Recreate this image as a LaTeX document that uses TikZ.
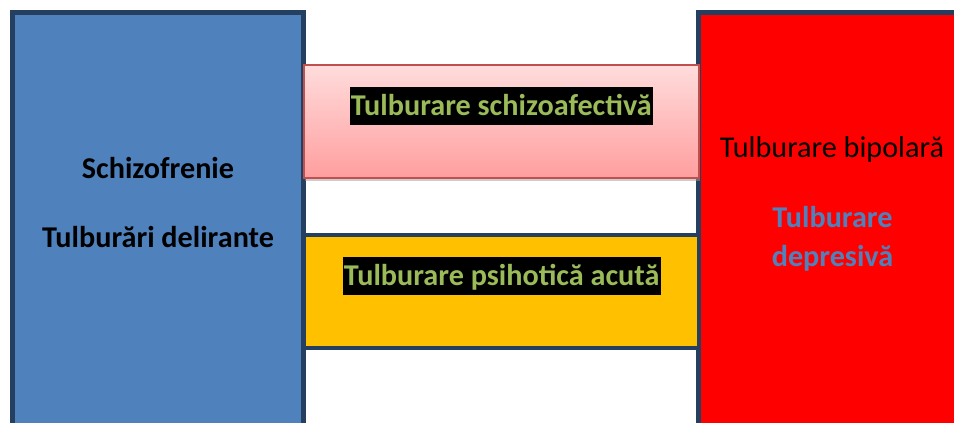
\documentclass[tikz,border=0pt]{standalone}
\usepackage{fontspec}
\setmainfont{Carlito}
\usepackage{xcolor}
\usetikzlibrary{shadows}

\definecolor{edgenavy}{HTML}{243F60}
\definecolor{colblue}{HTML}{4F81BD}
\definecolor{colred}{HTML}{FF0000}
\definecolor{bandyellow}{HTML}{FFC000}
\definecolor{bandedge}{HTML}{C0504D}
\definecolor{pinktop}{HTML}{FFDCDC}
\definecolor{pinkbot}{HTML}{FF9E9E}
\definecolor{labgreen}{HTML}{9BBB59}

\newcommand{\boxfont}{\fontsize{15.1}{18}\selectfont}

\begin{document}
\begin{tikzpicture}[x=0.5pt, y=-0.5pt,
		every node/.style={font=\boxfont},
		col/.style={draw=edgenavy, line width=2.5pt, minimum height=213.75pt, inner sep=0pt},
		band/.style={minimum width=197.5pt, minimum height=56.5pt, inner sep=0pt},
		lbl/.style={anchor=base, inner sep=0pt},
		hilite/.style={lbl, fill=black, text=labgreen, font={\boxfont\bfseries}, inner xsep=0.6pt, text height=14.2pt, text depth=4.5pt}]
		\clip (0,0) rectangle (954,423);
		
		% side columns
		\node[col, fill=colblue, minimum width=145.5pt] (left) at (158,226.25) {};
		\node[col, fill=colred, minimum width=135.75pt] (right) at (834.25,226.25) {};
		
		% middle bands
		\node[band, fill=bandyellow, draw=edgenavy, line width=2.2pt] (acute) at (501.25,291.65) {};
		\node[band, draw=bandedge, line width=0.75pt, top color=pinktop, bottom color=pinkbot,
			drop shadow={shadow xshift=0.7pt, shadow yshift=-1.5pt, fill=gray!80}] (affect) at (501.25,121.65) {};
		
		\node[lbl, font={\boxfont\bfseries}] (schiz) at (158,178) {Schizofrenie};
		\node[lbl, font={\boxfont\bfseries}] (delir) at (158,247) {Tulburări delirante};
		\node[hilite] (schaf) at (501.3,115.5) {Tulburare schizoafectivă};
		\node[hilite] (psih) at (501.7,285.5) {Tulburare psihotică acută};
		\node[lbl] (bip) at (832,157) {Tulburare bipolară};
		\node[lbl, text=colblue, font={\boxfont\bfseries}] (tulb) at (832.5,227) {Tulburare};
		\node[lbl, text=colblue, font={\boxfont\bfseries}] (depr) at (832.5,266.5) {depresivă};
	\end{tikzpicture}
\end{document}
